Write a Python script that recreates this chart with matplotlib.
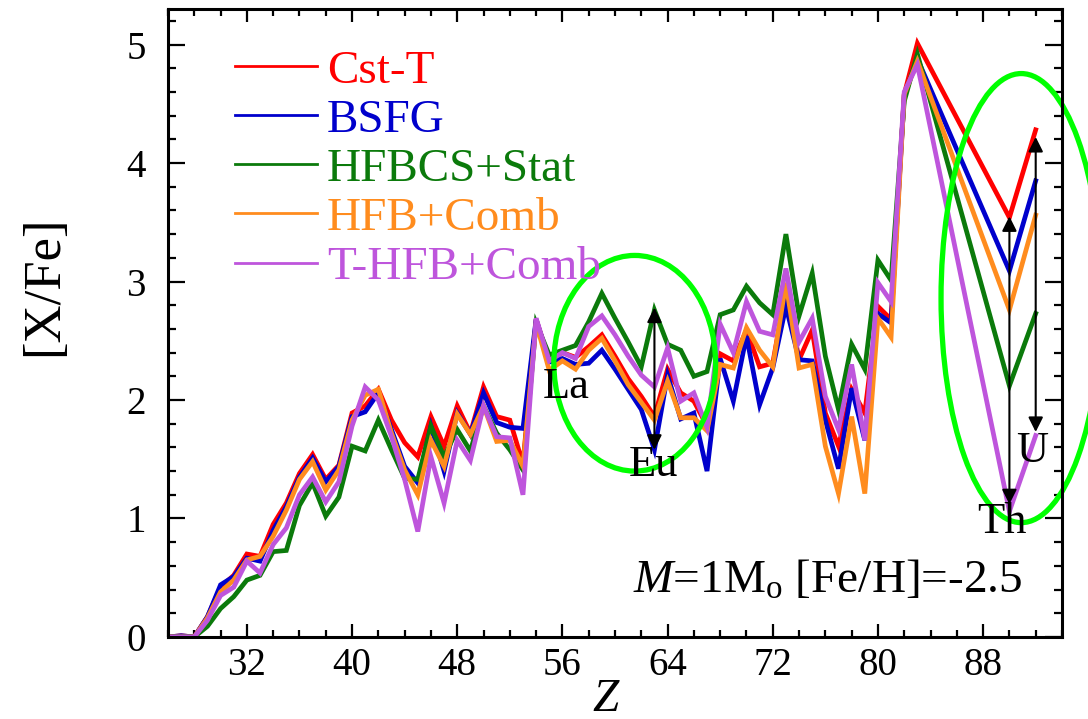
import numpy as np
import matplotlib.pyplot as plt
from matplotlib.patches import Ellipse
from matplotlib.ticker import MultipleLocator
from matplotlib.lines import Line2D

plt.rcParams['font.family']=['Liberation Serif','DejaVu Serif']
plt.rcParams['mathtext.fontset']='custom'
plt.rcParams['mathtext.rm']='Liberation Serif'
plt.rcParams['mathtext.it']='Liberation Serif:italic'

# atomic number Z (26..83, then Th and U)
z=list(range(26,84))+[90,92]

cst_t=[0,0.01,0,0.17,0.42,0.52,0.70,0.68,0.95,1.13,
       1.38,1.54,1.33,1.45,1.89,1.95,2.09,1.83,1.64,1.52,
       1.86,1.61,1.95,1.72,2.11,1.86,1.83,1.46,2.68,2.33,
       2.40,2.36,2.45,2.55,2.37,2.18,2.03,1.86,2.26,2.06,
       1.99,1.78,2.39,2.33,2.59,2.28,2.31,2.93,2.34,2.59,
       1.89,1.61,2.09,1.89,2.79,2.68,4.58,5.01,3.54,4.28]
bsfg=[0,0.01,0,0.17,0.44,0.51,0.665,0.64,0.90,1.10,
      1.35,1.51,1.31,1.44,1.86,1.90,2.06,1.75,1.44,1.30,
      1.78,1.40,1.89,1.71,2.06,1.81,1.77,1.76,2.68,2.32,
      2.35,2.30,2.31,2.42,2.26,2.09,1.92,1.58,2.21,1.84,
      1.89,1.40,2.35,1.99,2.54,1.96,2.27,2.79,2.34,2.33,
      1.83,1.42,2.10,1.66,2.73,2.65,4.57,4.88,3.09,3.85]
hfbcs_stat=[0,0,0,0.09,0.24,0.34,0.48,0.52,0.72,0.73,
            1.11,1.30,1.02,1.18,1.61,1.57,1.83,1.58,1.34,1.33,
            1.78,1.52,1.75,1.57,1.95,1.72,1.58,1.41,2.65,2.38,
            2.42,2.46,2.66,2.90,2.69,2.49,2.28,2.76,2.47,2.42,
            2.20,2.24,2.72,2.76,2.96,2.82,2.72,3.40,2.71,3.07,
            2.37,1.92,2.47,2.26,3.18,3.01,4.52,4.92,2.12,2.73]
hfb_comb=[0,0,0,0.16,0.38,0.48,0.65,0.68,0.85,1.07,
          1.33,1.48,1.24,1.41,1.83,2.04,2.09,1.72,1.41,1.20,
          1.66,1.44,1.88,1.71,1.95,1.65,1.66,1.44,2.65,2.25,
          2.33,2.26,2.42,2.52,2.33,2.13,1.98,1.83,2.16,1.85,
          1.85,1.74,2.30,2.27,2.61,2.42,2.28,2.99,2.27,2.30,
          1.61,1.21,1.86,1.21,2.69,2.53,4.58,4.86,2.76,3.56]
thfb_comb=[0,0,0,0.14,0.35,0.42,0.64,0.54,0.78,0.92,
           1.20,1.35,1.14,1.31,1.78,2.11,2.00,1.69,1.33,0.89,
           1.52,1.13,1.66,1.49,1.95,1.69,1.68,1.20,2.69,2.33,
           2.40,2.35,2.62,2.71,2.55,2.37,2.21,2.11,2.44,1.99,
           2.06,1.77,2.64,2.40,2.83,2.58,2.55,3.11,2.49,2.69,
           2.03,1.75,2.30,1.66,2.99,2.83,4.60,4.83,1.06,1.70]

labels=['Cst-T','BSFG','HFBCS+Stat','HFB+Comb','T-HFB+Comb']
colors=['#FF0000','#0000CC','#0B7A0B','#FF8C1E','#BE55DC']
series=[cst_t,bsfg,hfbcs_stat,hfb_comb,thfb_comb]

fig=plt.figure(figsize=(10.88,7.19),dpi=100)
ax=fig.add_axes([0.1544,0.1141,0.8217,0.8734])

for s,c in zip(series,colors):
    ax.plot(z,s,color=c,lw=3.4,solid_joinstyle='miter')

ax.set_xlim(26,94)
ax.set_ylim(0,5.3)
ax.xaxis.set_major_locator(MultipleLocator(8))
ax.xaxis.set_minor_locator(MultipleLocator(2))
ax.yaxis.set_major_locator(MultipleLocator(1))
ax.yaxis.set_minor_locator(MultipleLocator(0.2))
ax.tick_params(which='both',direction='in',top=True,right=True,width=1.6)
ax.tick_params(axis='x',which='major',length=9.5,pad=7,labelsize=28)
ax.tick_params(axis='x',which='minor',length=5)
ax.tick_params(axis='y',which='major',length=12,pad=16,labelsize=28)
ax.tick_params(axis='y',which='minor',length=6)
for sp in ax.spines.values():
    sp.set_linewidth(2.2)

ax.set_ylabel('[X/Fe]',fontsize=38)
ax.yaxis.set_label_coords(-0.112,0.56)
ax.set_xlabel('Z',fontsize=34,fontstyle='italic')
ax.xaxis.set_label_coords(0.489,-0.066)

handles=[Line2D([],[],color=c,lw=2) for c in colors]
ax.legend(handles,labels,loc='upper left',bbox_to_anchor=(0.075,0.935),frameon=False,
          fontsize=34,handlelength=1.74,handletextpad=0.21,labelspacing=0.127,
          borderpad=0,borderaxespad=0,labelcolor=colors)

# highlighted regions
ax.add_patch(Ellipse((61.5,2.31),12.3,1.82,fill=False,ec='#00FF00',lw=3.8,clip_on=False,zorder=2.5))
ax.add_patch(Ellipse((90.9,2.86),12.2,3.79,fill=False,ec='#00FF00',lw=3.8,clip_on=False,zorder=2.5))

arrow=dict(arrowstyle='<|-|>',color='black',lw=1.5,mutation_scale=22,shrinkA=0,shrinkB=0)
ax.annotate('',xy=(63,1.58),xytext=(63,2.78),arrowprops=arrow)
ax.annotate('',xy=(90,1.12),xytext=(90,3.55),arrowprops=arrow)
ax.annotate('',xy=(92,1.73),xytext=(92,4.22),arrowprops=arrow)

ax.text(56.3,2.11,'La',fontsize=32,ha='center',va='center')
ax.text(62.9,1.45,'Eu',fontsize=32,ha='center',va='center')
ax.text(89.4,0.97,'Th',fontsize=32,ha='center',va='center')
ax.text(91.7,1.57,'U',fontsize=32,ha='center',va='center')
ax.text(61.4,0.37,r'$M$=1M$_{\rm o}$ [Fe/H]=-2.5',fontsize=34,ha='left',va='baseline')

fig.savefig('out.png',dpi=100)
